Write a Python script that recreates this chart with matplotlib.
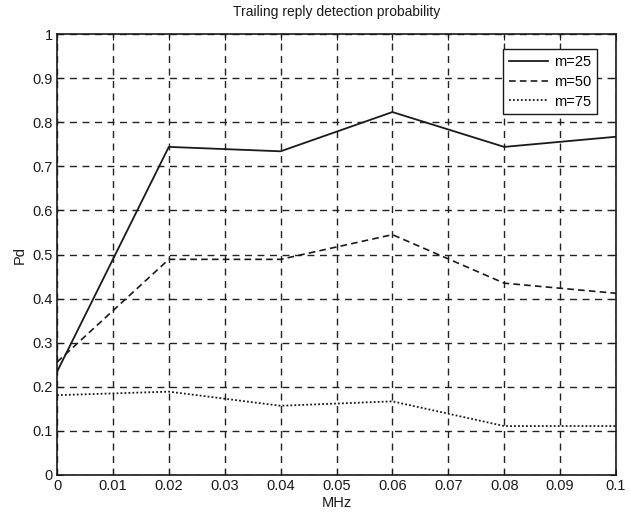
import matplotlib
matplotlib.use("Agg")
import matplotlib.pyplot as plt
import numpy as np

plt.rcParams['font.family'] = ['Liberation Sans', 'DejaVu Sans']

x = [0, 0.02, 0.04, 0.06, 0.08, 0.1]
m25 = [0.234, 0.744, 0.734, 0.823, 0.744, 0.767]
m50 = [0.256, 0.489, 0.489, 0.545, 0.435, 0.412]
m75 = [0.181, 0.189, 0.157, 0.167, 0.111, 0.111]
labels = ['m=25', 'm=50', 'm=75']

fig = plt.figure(figsize=(6.31, 5.14), dpi=100)
ax = fig.add_axes([57/631, 1-475/514, (616-57)/631, (475-34)/514])

ax.plot(x, m25, color='#1a1a1a', lw=1.3, ls='-', label=labels[0])
ax.plot(x, m50, color='#1a1a1a', lw=1.2, ls=(0, (4, 2.5)), label=labels[1])
ax.plot(x, m75, color='#1a1a1a', lw=1.3, ls=(0, (1, 1.2)), label=labels[2])

ax.set_xlim(0, 0.1)
ax.set_ylim(0, 1)
ax.set_xticks(np.arange(0, 0.1001, 0.01))
ax.set_xticklabels(['0', '0.01', '0.02', '0.03', '0.04', '0.05', '0.06', '0.07', '0.08', '0.09', '0.1'])
ax.set_yticks(np.arange(0, 1.001, 0.1))
ax.set_yticklabels(['0', '0.1', '0.2', '0.3', '0.4', '0.5', '0.6', '0.7', '0.8', '0.9', '1'])
ax.grid(True, color='#222222', ls=(0, (5, 4)), lw=1.0)
ax.tick_params(direction='in', top=True, right=True, length=4, labelsize=10.5, colors='#1a1a1a', pad=3)
for s in ax.spines.values():
    s.set_linewidth(1.2)
    s.set_color('#1a1a1a')

ax.set_title('Trailing reply detection probability', fontsize=10, color='#1a1a1a', pad=13)
ax.set_xlabel('MHz', fontsize=10.5, color='#1a1a1a', labelpad=2)
ax.set_ylabel('Pd', fontsize=10.5, color='#1a1a1a', labelpad=4)

leg = ax.legend(loc='upper right', bbox_to_anchor=((597-57)/559, (475-49)/441), fontsize=10.5, frameon=True,
                fancybox=False, edgecolor='#1a1a1a', framealpha=1, handlelength=2.7,
                borderpad=0.4, labelspacing=0.4, handletextpad=0.4, borderaxespad=0)
leg.get_frame().set_linewidth(1.0)

fig.savefig('out.png', dpi=100)
